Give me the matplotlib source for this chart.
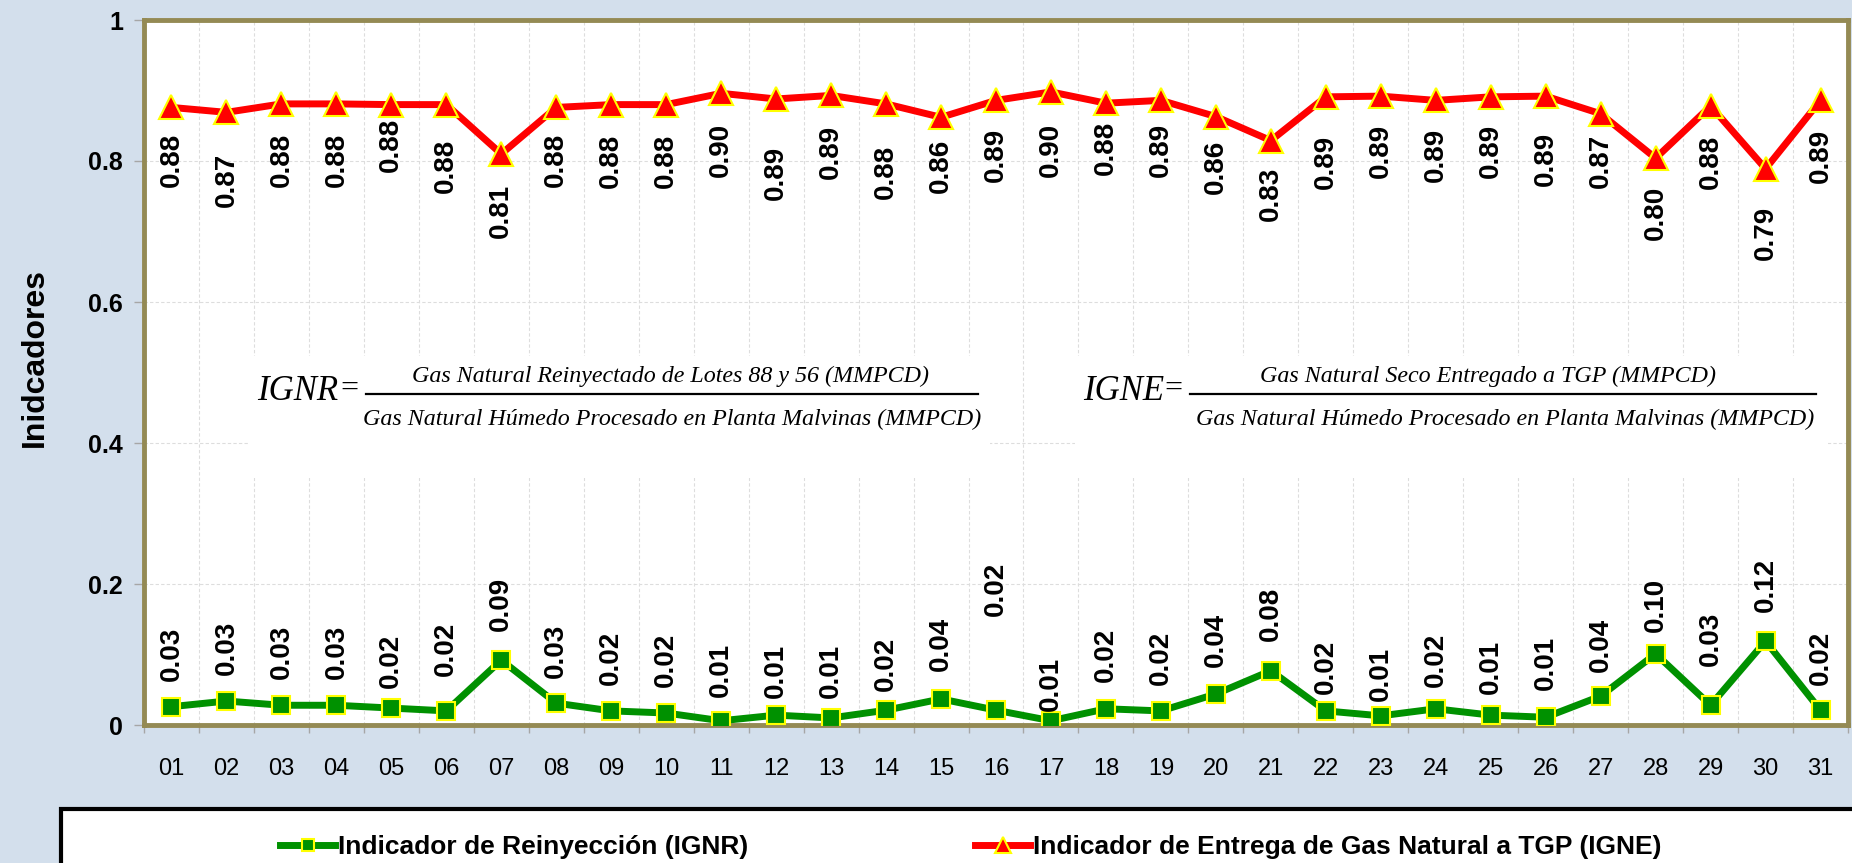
import matplotlib
matplotlib.use("Agg")
import matplotlib.pyplot as plt
import numpy as np
from matplotlib.lines import Line2D
from matplotlib.patches import Rectangle

plt.rcParams['font.family'] = ['Liberation Sans', 'DejaVu Sans']

# ---------------- data ----------------
days = ['01', '02', '03', '04', '05', '06', '07', '08', '09', '10', '11', '12', '13', '14', '15',
        '16', '17', '18', '19', '20', '21', '22', '23', '24', '25', '26', '27', '28', '29', '30', '31']
ignr = [0.026, 0.034, 0.028, 0.028, 0.024, 0.020, 0.092, 0.031, 0.020, 0.017, 0.006, 0.014, 0.010,
        0.021, 0.037, 0.021, 0.006, 0.023, 0.020, 0.044, 0.077, 0.020, 0.013, 0.023, 0.014, 0.011,
        0.041, 0.101, 0.028, 0.119, 0.021]
igne = [0.876, 0.869, 0.881, 0.881, 0.880, 0.880, 0.810, 0.876, 0.880, 0.880, 0.896, 0.888, 0.893,
        0.881, 0.862, 0.886, 0.898, 0.882, 0.886, 0.863, 0.829, 0.891, 0.892, 0.886, 0.891, 0.892,
        0.867, 0.804, 0.878, 0.789, 0.886]
name_ignr = 'Indicador de Reinyección (IGNR)'
name_igne = 'Indicador de Entrega de Gas Natural a TGP (IGNE)'
ytick_vals = [0, 0.2, 0.4, 0.6, 0.8, 1.0]
ytick_text = ['0', '0.2', '0.4', '0.6', '0.8', '1']

# label placement (pixels from point) - layout only
off_igne = [52, 68, 56, 56, 40, 61, 57, 52, 56, 56, 57, 74, 57, 68, 49, 55, 58, 45, 50, 50, 53, 65,
            55, 55, 54, 63, 47, 55, 56, 64, 56]
off_ignr = [53, 53, 53, 53, 47, 62, 56, 52, 53, 53, 51, 44, 47, 46, 55, 121, 37, 54, 53, 54, 57, 44,
            42, 49, 48, 54, 51, 49, 66, 56, 52]

W, H = 1852, 863
BG = '#D3DFEC'
OLIVE = '#948A54'
GREEN = '#009100'
RED = '#FF0000'
YEL = '#FFFF00'

def fx(px):
    return px / W

def fy(py):
    return 1 - py / H

fig = plt.figure(figsize=(W / 100, H / 100), dpi=100, facecolor=BG)
ax = fig.add_axes([fx(144), fy(725), fx(1848) - fx(144), fy(20) - fy(725)])
ax.set_facecolor('white')

x = np.arange(len(days))
l_g, = ax.plot(x, ignr, color=GREEN, lw=5, marker='s', ms=13.5, mfc=GREEN, mec=YEL, mew=1.5,
               zorder=4, solid_joinstyle='miter')
l_r, = ax.plot(x, igne, color=RED, lw=5, marker='^', ms=17, mfc=RED, mec=YEL, mew=1.5,
               zorder=4, solid_joinstyle='miter')

for i, v in enumerate(igne):
    ax.annotate(f'{v:.2f}', (x[i], v), xytext=(0, -off_igne[i]), textcoords='offset pixels',
                rotation=90, ha='center', va='center', fontsize=20, fontweight='bold', zorder=5)
for i, v in enumerate(ignr):
    ax.annotate(f'{v:.2f}', (x[i], v), xytext=(0, off_ignr[i]), textcoords='offset pixels',
                rotation=90, ha='center', va='center', fontsize=20, fontweight='bold', zorder=5)

ax.set_xlim(-0.5, len(days) - 0.5)
ax.set_ylim(0, 1)
ax.set_xticks(x)
ax.set_xticklabels(days, fontsize=17)
ax.set_xticks(np.arange(-0.5, len(days), 1), minor=True)
ax.tick_params(axis='x', which='major', length=0, pad=24)
ax.tick_params(axis='x', which='minor', length=6, width=1, color='#A6A6A6', direction='out')
ax.set_yticks(ytick_vals)
ax.set_yticklabels(ytick_text, fontsize=18, fontweight='bold')
ax.tick_params(axis='y', which='major', length=7, width=1, color='#A6A6A6', pad=8)

ax.grid(which='minor', axis='x', color='#DDDDDD', ls=(0, (3, 2)), lw=0.8)
ax.grid(which='major', axis='y', color='#DDDDDD', ls=(0, (3, 2)), lw=0.8)
ax.set_axisbelow(True)
for s in ax.spines.values():
    s.set_color(OLIVE)
    s.set_linewidth(3.5)

fig.text(fx(35), fy(357), 'Inidcadores', rotation=90, fontsize=23, fontweight='bold',
         ha='center', va='center')

# ---------------- formulas ----------------
for (x0, x1) in [(250, 990), (1075, 1828)]:
    fig.add_artist(Rectangle((fx(x0), fy(478)), fx(x1) - fx(x0), fy(356) - fy(478),
                             transform=fig.transFigure, fc='white', ec='none', zorder=1))

serif = dict(family=['Liberation Serif', 'DejaVu Serif'])
fs = 17.3
fig.text(fx(257), fy(391), 'IGNR', fontsize=25, style='italic', va='center', ha='left', zorder=3, **serif)
fig.text(fx(349), fy(389), '=', fontsize=23, va='center', ha='center', zorder=3, **serif)
fig.text(fx(670), fy(376), 'Gas Natural Reinyectado de Lotes 88 y 56 (MMPCD)', fontsize=fs,
         style='italic', va='center', ha='center', zorder=3, **serif)
fig.add_artist(Line2D([fx(366), fx(978)], [fy(394), fy(394)], transform=fig.transFigure,
                      color='black', lw=1.6, zorder=3))
fig.text(fx(672), fy(419), 'Gas Natural Húmedo Procesado en Planta Malvinas (MMPCD)', fontsize=fs,
         style='italic', va='center', ha='center', zorder=3, **serif)

fig.text(fx(1083), fy(391), 'IGNE', fontsize=25, style='italic', va='center', ha='left', zorder=3, **serif)
fig.text(fx(1173), fy(389), '=', fontsize=23, va='center', ha='center', zorder=3, **serif)
fig.text(fx(1488), fy(376), 'Gas Natural Seco Entregado a TGP (MMPCD)', fontsize=fs,
         style='italic', va='center', ha='center', zorder=3, **serif)
fig.add_artist(Line2D([fx(1190), fx(1816)], [fy(394), fy(394)], transform=fig.transFigure,
                      color='black', lw=1.6, zorder=3))
fig.text(fx(1505), fy(419), 'Gas Natural Húmedo Procesado en Planta Malvinas (MMPCD)', fontsize=fs,
         style='italic', va='center', ha='center', zorder=3, **serif)

# ---------------- legend ----------------
fig.add_artist(Rectangle((fx(61), -0.2), 2.0, fy(809) + 0.2, transform=fig.transFigure,
                         fc='white', ec='black', lw=3, zorder=1))
lp = dict(family='Liberation Sans', weight='bold', size=19)
leg1 = fig.legend([l_g], [name_ignr], loc='center left', bbox_to_anchor=(fx(280), fy(847)),
                  frameon=False, prop=lp, handlelength=2.1, handletextpad=0.1, markerscale=0.65,
                  borderpad=0, borderaxespad=0)
leg2 = fig.legend([l_r], [name_igne], loc='center left', bbox_to_anchor=(fx(975), fy(847)),
                  frameon=False, prop=lp, handlelength=2.1, handletextpad=0.1, markerscale=0.65,
                  borderpad=0, borderaxespad=0)
leg1.set_zorder(5)
leg2.set_zorder(5)

fig.savefig('out.png', dpi=100, facecolor=BG)
